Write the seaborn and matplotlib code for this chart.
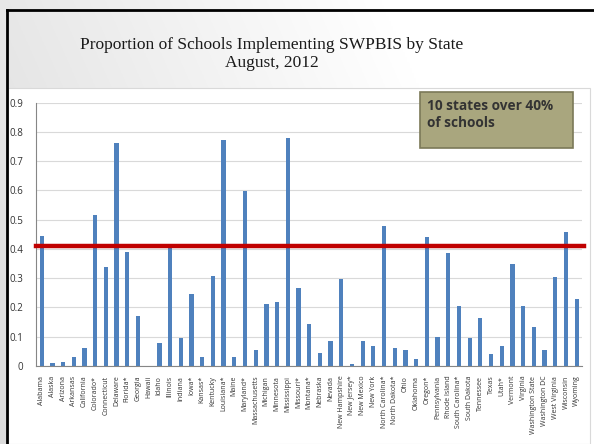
import numpy as np
import pandas as pd
import matplotlib
matplotlib.use("Agg")
import matplotlib.pyplot as plt
from matplotlib.patches import Rectangle
from matplotlib.lines import Line2D
import seaborn as sns

states = [
    "Alabama", "Alaska", "Arizona", "Arkansas", "California", "Colorado*",
    "Connecticut", "Delaware", "Florida*", "Georgia", "Hawaii", "Idaho",
    "Illinois", "Indiana", "Iowa*", "Kansas*", "Kentucky", "Louisiana*",
    "Maine", "Maryland*", "Massachusetts", "Michigan", "Minnesota",
    "Mississippi", "Missouri*", "Montana*", "Nebraska", "Nevada",
    "New Hampshire", "New Jersey*", "New Mexico", "New York",
    "North Carolina*", "North Dakota*", "Ohio", "Oklahoma", "Oregon*",
    "Pennsylvania", "Rhode Island", "South Carolina*", "South Dakota",
    "Tennessee", "Texas", "Utah*", "Vermont", "Virginia",
    "Washington State", "Washington DC", "West Virginia", "Wisconsin",
    "Wyoming",
]
proportion = [
    0.443, 0.009, 0.015, 0.030, 0.060, 0.515,
    0.337, 0.762, 0.388, 0.170, 0.000, 0.080,
    0.406, 0.095, 0.246, 0.031, 0.308, 0.772,
    0.031, 0.599, 0.056, 0.211, 0.220,
    0.778, 0.265, 0.145, 0.043, 0.087,
    0.299, 0.006, 0.084, 0.068,
    0.477, 0.063, 0.056, 0.024, 0.440,
    0.098, 0.386, 0.206, 0.095,
    0.163, 0.042, 0.068, 0.349, 0.206,
    0.135, 0.053, 0.303, 0.458,
    0.230,
]
threshold = 0.41
y_ticks = [0, 0.1, 0.2, 0.3, 0.4, 0.5, 0.6, 0.7, 0.8, 0.9]
y_tick_labels = ["0", "0.1", "0.2", "0.3", "0.4", "0.5", "0.6", "0.7", "0.8", "0.9"]

df = pd.DataFrame({"state": states, "proportion": proportion})

W, H = 594, 444
fig = plt.figure(figsize=(W / 100, H / 100), dpi=100)
fig.patch.set_facecolor("#f0f0f0")

def fx(px):
    return px / W

def fy(py):
    return 1 - py / H

# slide background: soft gray-to-white gradient behind the title
bg = fig.add_axes([0, 0, 1, 1], zorder=-10)
bg.set_axis_off()
grad = np.linspace(0, 1, 256)
xx, yy = np.meshgrid(grad, grad)
g = np.clip(0.86 + 0.16 * (xx * 0.9 + (1 - yy) * 0.3), 0, 1)
bg.imshow(np.dstack([g, g, g]), extent=[0, 1, 0, 1], aspect="auto",
          transform=bg.transAxes)
bg.set_xlim(0, 1)
bg.set_ylim(0, 1)
# white chart panel
bg.add_patch(Rectangle((fx(8), 0), fx(590) - fx(8), fy(88),
                       facecolor="white", edgecolor="#d9d9d9", lw=0.8,
                       transform=bg.transAxes))
# dark frame on the top and left
bg.add_line(Line2D([fx(7), 1], [fy(10), fy(10)], color="black", lw=2,
                   transform=bg.transAxes))
bg.add_line(Line2D([fx(7), fx(7)], [0, fy(10)], color="black", lw=2,
                   transform=bg.transAxes))

# title
fig.text(fx(272), fy(45), "Proportion of Schools Implementing SWPBIS by State",
         ha="center", va="center", fontsize=12.5, family="Liberation Serif",
         color="#1a1a1a")
fig.text(fx(272), fy(63), "August, 2012", ha="center", va="center",
         fontsize=12.5, family="Liberation Serif", color="#1a1a1a")

# chart
ax = fig.add_axes([fx(36), fy(366), fx(582) - fx(36), fy(102.7) - fy(366)])
ax.set_facecolor("none")
sns.barplot(data=df, x="state", y="proportion", color="#4F81BD",
            saturation=1, width=0.4, ax=ax, zorder=2)
ax.set_xlim(-0.53, len(states) - 0.5)
ax.set_ylim(0, 0.9)
ax.set_yticks(y_ticks)
ax.set_yticklabels(y_tick_labels, fontsize=7, family="Open Sans",
                   color="#333333")
ax.set_xticks(range(len(states)))
ax.set_xticklabels(states, rotation=90, fontsize=5, family="Open Sans",
                   color="#333333")
ax.tick_params(axis="y", length=0, pad=9)
ax.tick_params(axis="x", length=0, pad=7)
ax.set_xlabel("")
ax.set_ylabel("")
ax.grid(axis="y", color="#d9d9d9", lw=0.8, zorder=0)
ax.set_axisbelow(True)
for side in ["top", "right"]:
    ax.spines[side].set_visible(False)
for side in ["left", "bottom"]:
    ax.spines[side].set_color("#868686")
    ax.spines[side].set_linewidth(0.8)

ax.axhline(threshold, color="#C00000", lw=3.2, zorder=3,
           xmin=0, xmax=1.004, clip_on=False)

# callout box
fig.patches.append(Rectangle((fx(420), fy(148)), fx(573) - fx(420),
                             fy(92) - fy(148), facecolor="#A9A67E",
                             edgecolor="#7B7958", lw=1.2,
                             transform=fig.transFigure, zorder=5))
fig.text(fx(427), fy(99), "10 states over 40%\nof schools", ha="left",
         va="top", fontsize=9.8, fontweight="bold", family="Open Sans",
         color="#333333", linespacing=1.3, zorder=6)

fig.savefig("out.png", dpi=100, facecolor=fig.get_facecolor())
